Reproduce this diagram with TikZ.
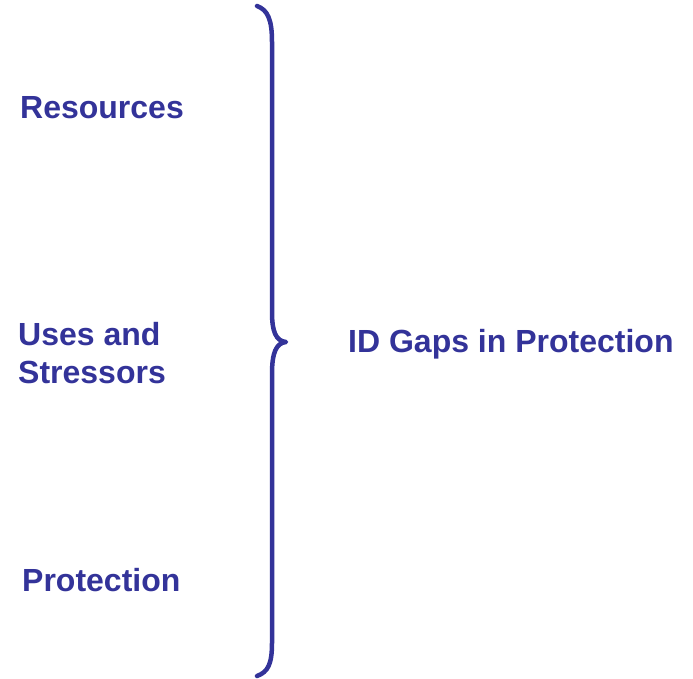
\documentclass[tikz,border=0pt]{standalone}
\usepackage{fontspec}
\setmainfont{Liberation Sans}
\usepackage{xcolor}
\usepackage{tikz}
\usetikzlibrary{positioning}
\definecolor{navy}{HTML}{333399}
\tikzstyle{heading} = [anchor=base west, inner sep=0pt, text=navy, align=left, font=\bfseries\fontsize{32}{38}\selectfont]
\tikzstyle{brace} = [draw=navy, line width=4.5pt, line cap=round, line join=round]

\begin{document}
\begin{tikzpicture}[x=1pt, y=-1pt]
    \useasboundingbox (0,0) rectangle (693,679);
    \node (res) [heading] at (20,119) {Resources};
    \node (uses) [heading] at (18,383) {Uses and\\Stressors};
    \node (prot) [heading] at (22,591) {Protection};
    \node (gaps) [heading] at (348,352) {ID Gaps in Protection};
    \path [brace] (257,6) .. controls (268,10) and (272,20) .. (272,42) -- (272,312)
        .. controls (272,332) and (276,341) .. (286,342)
        .. controls (276,343) and (272,353) .. (272,374) -- (272,643)
        .. controls (272,664) and (268,672) .. (257,676);
\end{tikzpicture}
\end{document}
